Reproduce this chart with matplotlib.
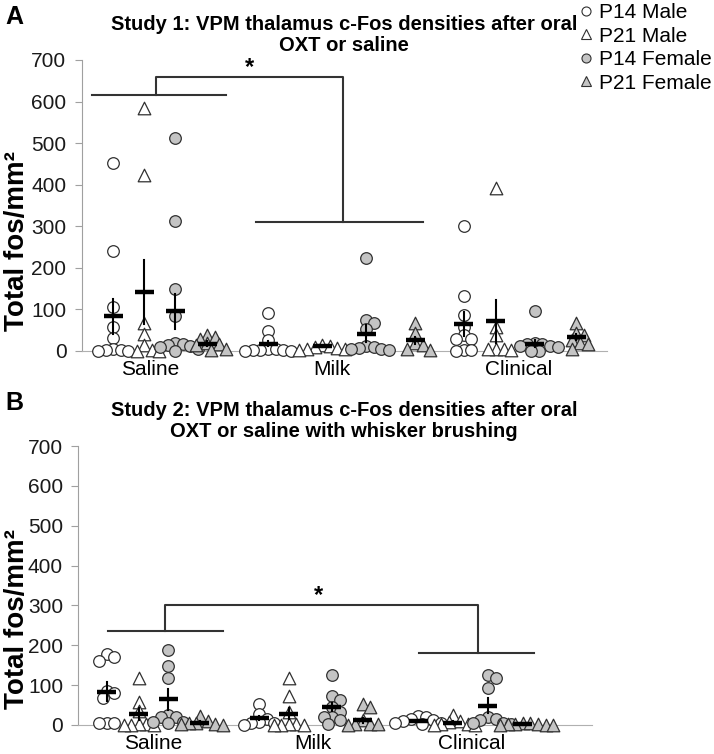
import matplotlib
matplotlib.use("Agg")
import matplotlib.pyplot as plt
from matplotlib.lines import Line2D
import numpy as np

plt.rcParams['font.family'] = ['Liberation Sans', 'DejaVu Sans']

W, H = 714, 754

groups = ["Saline", "Milk", "Clinical"]
series = ["P14 Male", "P21 Male", "P14 Female", "P21 Female"]

# Study 1 - individual animals (fos/mm2), one list per group
s1_p14_male = [[452, 240, 106, 58, 31, 4, 3, 2, 1, 0],
               [92, 47, 27, 5, 4, 3, 3, 2, 1, 0],
               [300, 132, 86, 58, 38, 30, 28, 3, 2, 1]]
s1_p21_male = [[585, 424, 68, 40, 14, 2, 1, 0],
               [14, 12, 10, 8, 6, 4, 2],
               [392, 58, 38, 6, 5, 4, 3]]
s1_p14_female = [[512, 312, 148, 83, 20, 17, 15, 12, 10, 4, 0],
                 [224, 75, 68, 54, 12, 10, 8, 6, 4, 2],
                 [96, 19, 18, 17, 12, 11, 10, 1, 0]]
s1_p21_female = [[38, 34, 30, 19, 18, 14, 6, 2],
                 [67, 44, 19, 15, 5, 2],
                 [67, 43, 38, 26, 19, 18, 6]]
# mean / sem as drawn, [group][series]
s1_mean = [[83, 143, 96, 18], [18, 11, 42, 26], [64, 71, 18, 34]]
s1_sem = [[41, 77, 42, 5], [7, 2, 21, 8], [29, 52, 8, 7]]

# Study 2
s2_p14_male = [[177, 170, 161, 85, 81, 67, 6, 5, 4],
               [53, 28, 14, 7, 6, 5, 1],
               [22, 20, 16, 12, 9, 6, 4, 3]]
s2_p21_male = [[117, 58, 36, 2, 2, 1, 1, 0],
               [117, 73, 33, 2, 2, 1, 1, 0],
               [25, 9, 8, 3, 2, 1, 0]]
s2_p14_female = [[188, 148, 117, 25, 21, 20, 8, 7, 5],
                 [125, 73, 63, 46, 33, 21, 20, 12, 2],
                 [125, 119, 94, 21, 15, 13, 5, 4, 3]]
s2_p21_female = [[23, 10, 6, 4, 3, 2, 1],
                 [52, 46, 12, 3, 2, 2, 1],
                 [6, 4, 3, 2, 2, 1, 1, 0]]
s2_mean = [[83, 28, 64, 6], [17, 28, 46, 12], [11, 6, 48, 2]]
s2_sem = [[24, 15, 27, 3], [5, 14, 10, 6], [2, 3, 19, 1]]

# significance brackets: (left_y, top_y, right_y, star_y)
s1_bracket = [615, 658, 310, 682]
s2_bracket = [235, 302, 181, 326]

# x placement (0-100 axis units)
s1_xpos = [[6.0, 11.9, 17.8, 23.9], [35.5, 45.8, 54.2, 63.5], [72.8, 78.9, 86.3, 94.2]]
s1_label_x = [13.0, 47.7, 83.3]
s1_brk_x = [1.9, 27.5, 14.2, 49.7, 33.2, 65.0, 31.9]
s2_xpos = [[5.5, 11.8, 17.5, 23.7], [35.2, 41.0, 49.4, 55.4], [66.2, 72.9, 79.8, 86.6]]
s2_label_x = [14.6, 45.7, 76.7]
s2_brk_x = [5.7, 28.1, 16.9, 77.9, 66.4, 88.8, 46.7]

markers = ['o', '^', 'o', '^']
fills = ['white', 'white', '#c4c4c4', '#c4c4c4']
sizes = [70, 82, 70, 82]
edge = '#303030'


def swarm(vals, xc, ppx, ppy, d):
    #spread points sideways, letting them overlap a bit like the original jitter
    placed = []
    order = np.argsort(vals)[::-1]
    res = [0] * len(vals)
    for i in order:
        y = vals[i] * ppy
        k = 0
        while True:
            step = (k + 1) // 2
            off = step * 0.33 * d * (1 if k % 2 else -1)
            ok = True
            for (px, py) in placed:
                if (px - off) ** 2 + (py - y) ** 2 < (0.66 * d) ** 2:
                    ok = False
                    break
            if ok:
                break
            k += 1
        placed.append((off, y))
        res[i] = xc + off / ppx
    return res


def draw_panel(rect, data, means, sems, xpos, label_x, brk, brk_x, title, letter, letter_y, title_y):
    l, t, r, b = rect
    ax = fig.add_axes([l / W, 1 - b / H, (r - l) / W, (b - t) / H])
    ax.set_xlim(0, 100)
    ax.set_ylim(0, 700)
    ppx = (r - l) / 100.0
    ppy = (b - t) / 700.0

    for g in range(3):
        for s in range(4):
            vals = data[s][g]
            xc = xpos[g][s]
            xs = swarm(vals, xc, ppx, ppy, 11.5)
            ax.scatter(xs, vals, s=sizes[s], marker=markers[s], facecolor=fills[s],
                       edgecolor=edge, linewidth=0.9, zorder=3, clip_on=False)
            m = means[g][s]
            e = sems[g][s]
            hw = 9.5 / ppx
            ax.plot([xc, xc], [m - e, m + e], color='black', lw=1.5, zorder=4, clip_on=False)
            ax.plot([xc - hw, xc + hw], [m, m], color='black', lw=3.2, zorder=5,
                    solid_capstyle='butt', clip_on=False)

    #brackets
    ly, ty, ry, sy = brk
    bc = '#333333'
    ax.plot([brk_x[0], brk_x[1]], [ly, ly], color=bc, lw=1.5, clip_on=False)
    ax.plot([brk_x[2], brk_x[2], brk_x[3], brk_x[3]], [ly, ty, ty, ry], color=bc, lw=1.5, clip_on=False)
    ax.plot([brk_x[4], brk_x[5]], [ry, ry], color=bc, lw=1.5, clip_on=False)
    ax.text(brk_x[6], sy, '*', ha='center', va='center', fontsize=17, fontweight='bold')

    for x, name in zip(label_x, groups):
        ax.annotate(name, xy=(x, 0), xycoords=('data', 'axes fraction'), xytext=(0, -13.5),
                    textcoords='offset points', ha='center', va='center', fontsize=15)

    ax.spines['top'].set_visible(False)
    ax.spines['right'].set_visible(False)
    ax.spines['left'].set_color('#a0a0a0')
    ax.spines['bottom'].set_color('#b0b0b0')
    ax.set_xticks([])
    ax.set_yticks(np.arange(0, 701, 100))
    ax.tick_params(axis='y', length=5, color='#a0a0a0', labelsize=15, pad=6, labelcolor='#1a1a1a')

    ycen = b - 265 * ppy
    fig.text(17 / W, 1 - ycen / H, 'Total fos/mm²', rotation=90, ha='center', va='center',
             fontsize=20, fontweight='bold')
    fig.text(344 / W, 1 - title_y / H, title, ha='center', va='center', fontsize=14.5,
             fontweight='bold', linespacing=1.15)
    fig.text(5 / W, 1 - letter_y / H, letter, ha='left', va='center', fontsize=18, fontweight='bold')
    return ax


fig = plt.figure(figsize=(W / 100, H / 100), dpi=100)

draw_panel((81.7, 60, 606.7, 351), [s1_p14_male, s1_p21_male, s1_p14_female, s1_p21_female],
           s1_mean, s1_sem, s1_xpos, s1_label_x, s1_bracket, s1_brk_x,
           'Study 1: VPM thalamus c-Fos densities after oral\nOXT or saline', 'A', 17, 35)
draw_panel((78.3, 446, 591.7, 725), [s2_p14_male, s2_p21_male, s2_p14_female, s2_p21_female],
           s2_mean, s2_sem, s2_xpos, s2_label_x, s2_bracket, s2_brk_x,
           'Study 2: VPM thalamus c-Fos densities after oral\nOXT or saline with whisker brushing', 'B', 403, 421)

handles = [Line2D([], [], ls='none', marker=markers[i], markerfacecolor=fills[i],
                  markeredgecolor=edge, markersize=6.5, markeredgewidth=0.8) for i in range(4)]
fig.legend(handles, series, loc='upper left', bbox_to_anchor=(580 / W, 1 - 3 / H), frameon=False,
           fontsize=15, handlelength=0.6, handletextpad=0.3, labelspacing=0.22, borderpad=0,
           borderaxespad=0)

fig.savefig('out.png', dpi=100)
